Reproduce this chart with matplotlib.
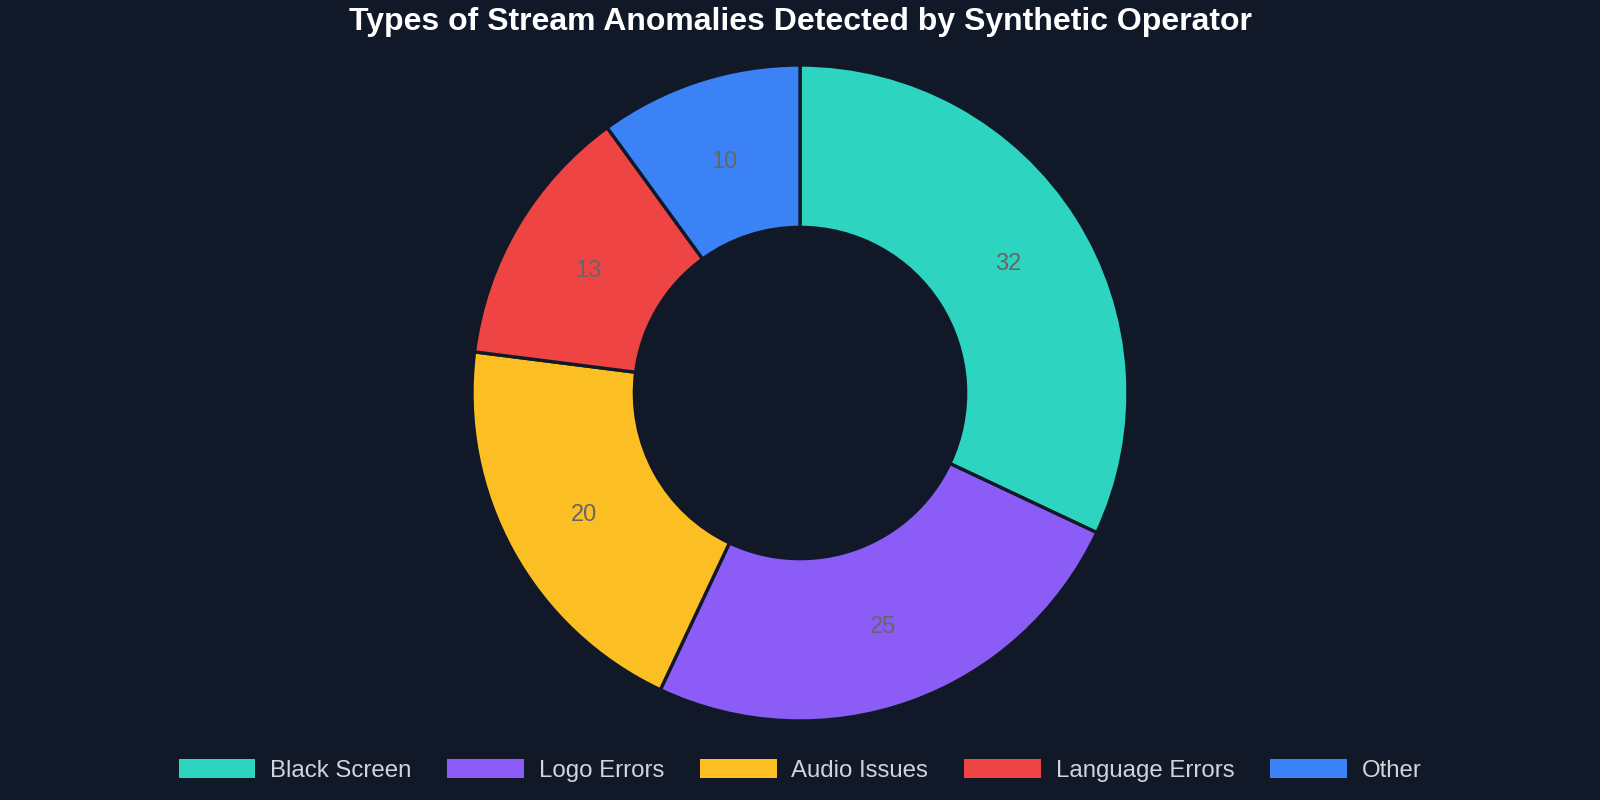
import numpy as np
import matplotlib.pyplot as plt
import matplotlib.transforms as mtransforms

plt.rcParams['font.family'] = ['Liberation Sans', 'DejaVu Sans']

categories = ['Black Screen', 'Logo Errors', 'Audio Issues', 'Language Errors', 'Other']
counts = [32, 25, 20, 13, 10]
colors = ['#2dd4bf', '#8b5cf6', '#fbbf24', '#ef4444', '#3b82f6']
bg = '#111827'

fig = plt.figure(figsize=(16, 8), dpi=100, facecolor=bg)
ax = fig.add_axes([0, 0, 1, 1])
ax.set_facecolor(bg)

wedges, texts, autotexts = ax.pie(
    counts, colors=colors, startangle=90, counterclock=False, radius=1,
    autopct=lambda p: '%d' % round(p * sum(counts) / 100), pctdistance=0.75,
    wedgeprops=dict(width=0.495, edgecolor=bg, linewidth=2.4),
    textprops=dict(color='#666666', fontsize=17))

# labels sit a little lower in the original
shift = mtransforms.offset_copy(ax.transData, fig=fig, x=0, y=-3, units='dots')
for t in autotexts:
    t.set_transform(shift)

R = 328.0
ax.set_xlim(-800 / R, 800 / R)
ax.set_ylim(-407 / R, 393 / R)
ax.set_aspect('auto')
ax.axis('off')

fig.text(0.5, 0.972, 'Types of Stream Anomalies Detected by Synthetic Operator',
         ha='center', va='center', color='white', fontsize=23, fontweight='bold')

leg = fig.legend(wedges, categories, loc='center', bbox_to_anchor=(0.5, 0.037),
                 ncol=5, frameon=False, fontsize=17.3, labelcolor='#d1d5db',
                 handlelength=3.2, handleheight=0.85, handletextpad=0.6,
                 columnspacing=1.5)
for h in leg.legend_handles:
    h.set_edgecolor('none')

fig.savefig('out.png', dpi=100, facecolor=bg)
